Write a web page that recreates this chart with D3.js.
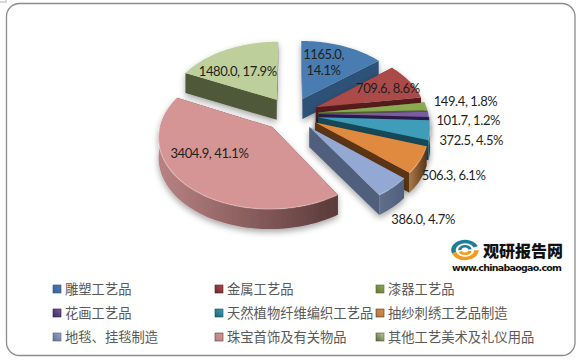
<!DOCTYPE html>
<html>
<head>
<meta charset="utf-8">
<script src="https://cdn.jsdelivr.net/npm/d3@7"></script>
<style>
    html, body { margin: 0; padding: 0; background: #fff; }
    svg { display: block; }
    .lbl { font-family: Lato, "Open Sans", sans-serif; font-size: 13px; letter-spacing: -0.4px; fill: #1f1f1f; text-anchor: middle; }
    .leg { font-family: "Noto Sans CJK SC", sans-serif; font-size: 13.3px; fill: #595959; }
</style>
</head>
<body>
<div id="visualize"></div>
<script>
var categories = ["雕塑工艺品", "金属工艺品", "漆器工艺品", "花画工艺品", "天然植物纤维编织工艺品", "抽纱刺绣工艺品制造", "地毯、挂毯制造", "珠宝首饰及有关物品", "其他工艺美术及礼仪用品"];
var values = [1165.0, 709.6, 149.4, 101.7, 372.5, 506.3, 386.0, 3404.9, 1480.0];
var percents = ["14.1%", "8.6%", "1.8%", "1.2%", "4.5%", "6.1%", "4.7%", "41.1%", "17.9%"];

var topColors = ["#4a7bb0", "#ab4b49", "#8bab52", "#7b5ca0", "#3f9db9", "#e08a40", "#93a9d3", "#d59595", "#bdd09b"];
var wallColors = ["#2f5178", "#551c1e", "#55662c", "#2c1c46", "#154a59", "#5c3414", "#505f7c", "#5b3a3a", "#4f5838"];
var wallLights = ["#3a6390", "#6e2a2a", "#65783a", "#3c2a58", "#1f6070", "#a9784c", "#606f8c", "#b98282", "#5a6440"];

// label placement: distance along the slice middle, then a small nudge
var labelDist = [0.85, 1, 1.65, 1.61, 1.65, 1.5, 1.6, 0.9, 0.9];
var labelNudge = [[-4, -4], [1, 1], [-3, -2], [0, 6], [-5, 5], [5, 5], [-3, 8], [-10, -11], [-5, 5]];

var width = 585, height = 360;
var cx = 291, cy = 114;
var radiusX = 110, radiusY = 68.5, persp = 0.122;
var explode = 0.25, depth = 20;

// pie units to screen, front of the pie is bigger
function project(x, y, h) {
    var s = 1 / (1 - persp * y);
    return [cx + radiusX * x * s, cy + radiusY * y * s + (h || 0)];
}

var svg = d3.select("#visualize").append("svg")
    .attr("width", width)
    .attr("height", height);

var defs = svg.append("defs");

var shadow = defs.append("filter").attr("id", "shadow")
    .attr("x", "-30%").attr("y", "-30%").attr("width", "160%").attr("height", "160%");
shadow.append("feDropShadow")
    .attr("dx", 0).attr("dy", 3)
    .attr("stdDeviation", 3)
    .attr("flood-color", "#000")
    .attr("flood-opacity", 0.35);

// frame
svg.append("rect")
    .attr("x", 6.5).attr("y", 3.5)
    .attr("width", 568.5).attr("height", 352)
    .attr("rx", 13).attr("ry", 13)
    .attr("fill", "#fff")
    .attr("stroke", "#8c8c8c")
    .attr("stroke-width", 1.3);
svg.append("rect")
    .attr("x", -1).attr("y", -1)
    .attr("width", 7).attr("height", 3)
    .attr("fill", "none")
    .attr("stroke", "#b5b5b5");

var pie = d3.pie().sort(null).value(function (d) { return d; });
var arcs = pie(values);

var line = d3.line();

var slices = arcs.map(function (a, i) {
    var mid = (a.startAngle + a.endAngle) / 2;
    return {
        i: i,
        start: a.startAngle,
        end: a.endAngle,
        mid: mid,
        ox: explode * Math.sin(mid),
        oy: -explode * Math.cos(mid)
    };
});

function rimPoints(d) {
    var n = Math.max(4, Math.ceil((d.end - d.start) / 0.03));
    return d3.range(n + 1).map(function (k) {
        var t = d.start + (d.end - d.start) * k / n;
        return [d.ox + Math.sin(t), d.oy - Math.cos(t)];
    });
}

function flat(pts, h) {
    return pts.map(function (p) { return project(p[0], p[1], h); });
}

// walls hanging down from a run of points
function wallPath(pts) {
    var top = flat(pts, 0);
    var bottom = flat(pts, depth).reverse();
    return line(top.concat(bottom)) + "Z";
}

// back slices first
var order = slices.slice().sort(function (a, b) {
    return a.oy - b.oy;
});

var grads = defs.selectAll("linearGradient.wall")
    .data(slices)
    .enter()
    .append("linearGradient")
    .attr("class", "wall")
    .attr("id", function (d) { return "wall" + d.i; })
    .attr("x1", "0%").attr("x2", "100%")
    .attr("y1", "0%").attr("y2", "0%");
grads.append("stop").attr("offset", "0%").attr("stop-color", function (d) { return wallLights[d.i]; });
grads.append("stop").attr("offset", "100%").attr("stop-color", function (d) { return wallColors[d.i]; });

var sliceG = svg.selectAll("g.slice")
    .data(order)
    .enter()
    .append("g")
    .attr("class", "slice")
    .attr("filter", "url(#shadow)");

sliceG.each(function (d) {
    var g = d3.select(this);
    var rim = rimPoints(d);
    var apex = [d.ox, d.oy];
    var i = d.i;

    // radial faces
    g.append("path")
        .attr("d", wallPath([apex, rim[0]]))
        .attr("fill", wallColors[i]);
    g.append("path")
        .attr("d", wallPath([apex, rim[rim.length - 1]]))
        .attr("fill", wallColors[i]);

    // outer wall, only the part turned to the viewer
    var front = rim.filter(function (p) { return p[1] - d.oy > -0.02; });
    if (front.length > 1) {
        g.append("path")
            .attr("d", wallPath(front))
            .attr("fill", "url(#wall" + i + ")");
    }

    // top
    g.append("path")
        .attr("d", line(flat([apex].concat(rim), 0)) + "Z")
        .attr("fill", topColors[i]);

    // soft bevel along the front rim
    if (front.length > 1) {
        g.append("path")
            .attr("d", line(flat(front, 0)))
            .attr("fill", "none")
            .attr("stroke", "#fff")
            .attr("stroke-opacity", 0.3)
            .attr("stroke-width", 1.2);
    }
});

// data labels
slices.forEach(function (d) {
    var dist = labelDist[d.i];
    var p = project(dist * Math.sin(d.mid), -dist * Math.cos(d.mid), 0);
    var x = p[0] + labelNudge[d.i][0];
    var y = p[1] + labelNudge[d.i][1];
    var v = values[d.i].toFixed(1);
    if (d.i == 0) {
        var t = svg.append("text").attr("class", "lbl").attr("x", x).attr("y", y);
        t.append("tspan").attr("x", x).attr("dy", "-0.25em").text(v + ",");
        t.append("tspan").attr("x", x).attr("dy", "1.25em").text(percents[d.i]);
    } else {
        svg.append("text")
            .attr("class", "lbl")
            .attr("x", x)
            .attr("y", y)
            .attr("dy", "0.35em")
            .text(v + ", " + percents[d.i]);
    }
});

// legend
var legendX = d3.scaleOrdinal().domain([0, 1, 2]).range([53, 215, 376]);
var legendY = d3.scaleOrdinal().domain([0, 1, 2]).range([289, 313, 337]);

var swatch = defs.selectAll("linearGradient.sw")
    .data(slices)
    .enter()
    .append("linearGradient")
    .attr("class", "sw")
    .attr("id", function (d) { return "sw" + d.i; })
    .attr("x1", "0%").attr("x2", "100%")
    .attr("y1", "100%").attr("y2", "0%");
swatch.append("stop").attr("offset", "0%").attr("stop-color", function (d) { return wallLights[d.i]; });
swatch.append("stop").attr("offset", "100%").attr("stop-color", function (d) { return topColors[d.i]; });

var legend = svg.selectAll("g.legend")
    .data(categories)
    .enter()
    .append("g")
    .attr("class", "legend")
    .attr("transform", function (d, i) {
        return "translate(" + legendX(i % 3) + "," + legendY(Math.floor(i / 3)) + ")";
    });
legend.append("rect")
    .attr("x", 0).attr("y", -4)
    .attr("width", 8).attr("height", 8)
    .attr("fill", function (d, i) { return "url(#sw" + i + ")"; })
    .attr("stroke", function (d, i) { return wallColors[i]; })
    .attr("stroke-width", 0.6);
legend.append("text")
    .attr("class", "leg")
    .attr("x", 12)
    .attr("y", 0)
    .attr("dy", "0.35em")
    .text(function (d) { return d; });

// logo
var logo = svg.append("g").attr("transform", "translate(465,250)");
var logoArc = d3.arc();
logo.append("path")
    .attr("d", logoArc({ innerRadius: 8, outerRadius: 12, startAngle: -1.9, endAngle: 1.2 }))
    .attr("transform", "scale(1.15,0.85)")
    .attr("fill", "#1d7f96");
logo.append("path")
    .attr("d", logoArc({ innerRadius: 3, outerRadius: 6, startAngle: -1.6, endAngle: 1.4 }))
    .attr("transform", "scale(1.15,0.85)")
    .attr("fill", "#1d7f96");
logo.append("path")
    .attr("d", logoArc({ innerRadius: 8, outerRadius: 12, startAngle: 1.6, endAngle: 4.4 }))
    .attr("transform", "scale(1.15,0.85)")
    .attr("fill", "#f39a1e");
logo.append("path")
    .attr("d", logoArc({ innerRadius: 3, outerRadius: 6, startAngle: 1.8, endAngle: 4.3 }))
    .attr("transform", "scale(1.15,0.85)")
    .attr("fill", "#f39a1e");

svg.append("text")
    .attr("x", 483).attr("y", 257)
    .attr("font-family", "'Noto Sans CJK SC', sans-serif")
    .attr("font-weight", 900)
    .attr("font-size", 16)
    .attr("fill", "#111")
    .text("观研报告网");
svg.append("text")
    .attr("x", 452).attr("y", 271)
    .attr("font-family", "'DejaVu Sans', sans-serif")
    .attr("font-weight", "bold")
    .attr("font-size", 9.5)
    .attr("fill", "#111")
    .attr("textLength", 110)
    .text("www.chinabaogao.com");
</script>
</body>
</html>
